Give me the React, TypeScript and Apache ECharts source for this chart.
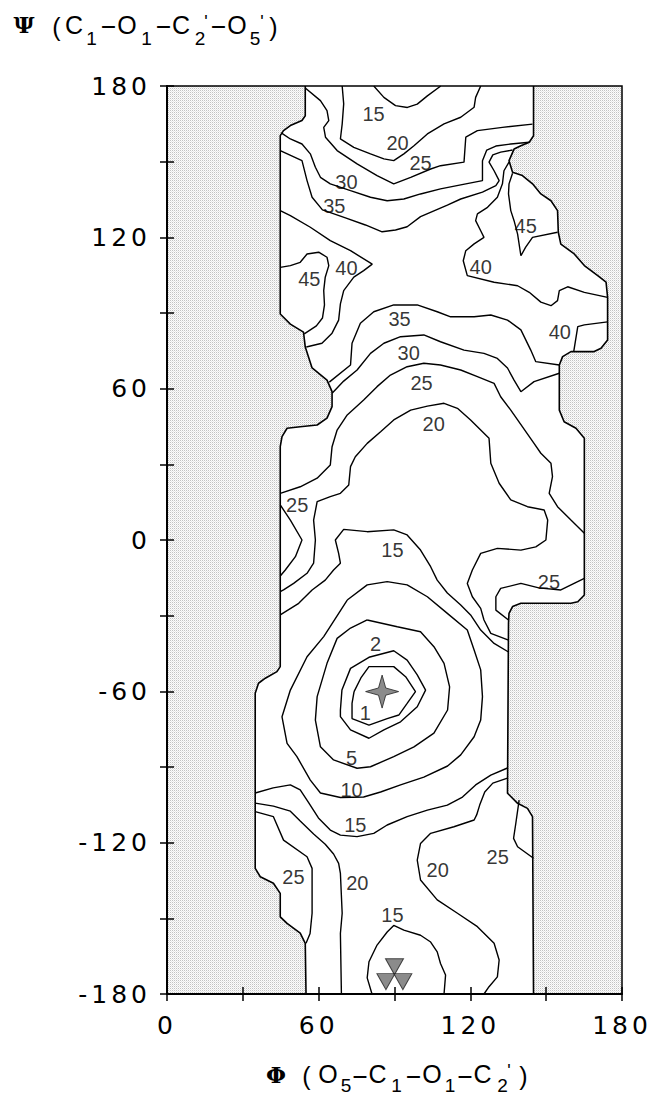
import React, { useEffect, useRef } from 'react';
import * as echarts from 'echarts';

// ---- allowed-region boundaries (phi, psi in degrees) ----
const leftBoundary = [[54.7,180],[54.7,168.2],[53.4,166.3],[48.8,164.3],[46.1,162.3],[44.8,160.3],[44.8,89.6],[48.8,85.6],[54.0,82.4],[54.7,76.5],[57.4,68.2],[63.3,63.4],[65.3,58.8],[65.3,52.9],[63.3,48.3],[59.4,45.6],[52.7,44.9],[47.5,44.3],[45.5,41.0],[44.8,37.0],[44.8,-50.2],[43.5,-52.2],[38.9,-54.8],[36.2,-56.8],[34.9,-60.8],[34.9,-130.2],[36.9,-133.5],[42.1,-136.1],[44.8,-140.1],[44.8,-149.4],[47.5,-152.0],[52.7,-155.9],[54.7,-159.9],[55,-180]];
const rightBoundary = [[145,180],[145,160.3],[143.3,157.7],[140,156.3],[137.3,155.0],[135.3,150.4],[136.7,145.8],[140.6,144.5],[144.6,141.2],[147.9,137.2],[151.9,134.5],[154.5,130.6],[154.8,122.0],[155.8,117.3],[161.1,113.4],[165.1,108.8],[170.4,104.8],[173.7,102.2],[174.3,96.2],[174.3,79.3],[171.7,76.0],[169.0,74.7],[159.8,74.7],[156.5,72.7],[155.2,69.4],[155.2,51.5],[157.1,46.9],[161.8,44.3],[165.1,40.3],[165.1,-21.8],[162.5,-24.5],[159.8,-25.1],[140.0,-25.1],[136.7,-26.4],[135.3,-29.1],[135.1,-33.0],[134.7,-100.4],[138.7,-104.4],[142.6,-106.4],[144.6,-109.7],[145,-180]];

// ---- contour lines (kcal/mol levels) ----
const c15Top = [[81.8,180],[85.8,175.5],[90.4,172.2],[95.1,171.5],[99.0,172.8],[103.0,176.1],[108.3,180]];
const c20Top = [[69.3,180],[69.9,172.9],[69.3,164.9],[68.6,159.0],[73.9,155.7],[80.5,153.1],[85.8,151.1],[89.7,150.4],[93.7,153.1],[97.7,156.3],[103.0,161.0],[109.6,165.0],[116.2,167.6],[121.5,171.6],[122.1,175.5],[124.1,180]];
const c25Top = [[54.7,179.2],[60.7,174.2],[63.3,170.2],[64.0,166.3],[62.0,163.6],[62.7,159.7],[67.3,154.4],[75.2,149.1],[83.1,144.5],[89.7,141.2],[96.4,143.8],[104.3,147.1],[108.2,148.4],[117.5,149.8],[118.2,159.7],[122.8,162.3],[132.7,163.6],[144.6,164.9]];
const c30Top = [[45.2,161.4],[48.8,159.0],[53.4,157.0],[56.7,153.1],[58.7,147.8],[60.7,143.8],[64.6,141.2],[72.6,138.5],[80.5,135.9],[87.1,134.5],[93.7,135.2],[100.3,137.2],[108.2,139.2],[116.2,140.8],[124.8,142.5],[124.8,150.4],[126.5,154.6],[130.1,156.2],[136.0,157.0],[143.3,157.7]];
const c35Top = [[44.8,154.4],[53.4,150.4],[55.4,142.5],[57.4,135.9],[61.5,130.9],[70.6,127.7],[78.5,124.9],[85.1,122.2],[90.4,122.9],[95.0,124.2],[100.3,128.2],[110.9,132.8],[116.2,135.2],[124.8,137.9],[130.1,140.5],[131.4,142.5],[129.4,146.4],[127.4,149.8],[128.9,152.7],[132.0,153.8],[136.7,154.6]];
const c40Left = [[44.8,130.6],[48.8,128.6],[56.7,124.0],[64.6,118.7],[72.6,114.7],[81.2,109.4],[77.8,106.8],[73.9,104.2],[69.9,98.9],[68.6,93.6],[67.9,87.2],[65.3,82.0],[61.3,78.0],[55.1,76.5]];
const c45Left = [[44.8,108.1],[48.8,108.8],[52.7,110.1],[55.4,113.4],[60.0,114.1],[63.3,112.1],[64.0,108.8],[62.6,104.2],[62.0,98.9],[62.3,93.2],[61.5,88.0],[59.1,84.9],[54.3,81.7]];
const c40Right = [[135.3,149.8],[133.3,146.4],[132.7,141.2],[130.7,135.9],[126.8,131.9],[122.8,129.3],[122.1,126.6],[124.1,122.6],[125.4,120.0],[121.5,117.4],[118.2,114.7],[117.2,110.7],[118.8,104.8],[129.4,102.2],[138.7,100.8],[143.3,98.2],[147.9,94.3],[151.9,92.9],[154.5,94.9],[155.2,98.9],[158.5,100.4],[165.1,98.2],[174.3,96.2]];
const c45Right = [[136.7,145.4],[135.3,141.2],[135.1,137.2],[136.0,130.6],[137.3,126.6],[138.7,121.3],[140.0,112.7],[141.9,116.1],[144.6,120.0],[154.5,122.0]];
const c40Small = [[160.9,74.7],[162.5,84.6],[165.1,85.3],[174.3,86.5]];
const c35Mid = [[64.2,62.6],[72.6,69.4],[73.2,78.0],[76.5,85.9],[81.8,90.5],[89.7,93.2],[99.0,93.2],[106.9,90.5],[112.2,88.5],[121.5,88.5],[128.1,89.2],[134.7,87.2],[140.0,83.3],[143.9,75.3],[145.9,70.7],[155.2,69.4]];
const c30Mid = [[65.4,58.3],[69.9,63.0],[75.2,67.4],[80.5,74.0],[85.8,78.0],[92.4,80.6],[101.6,81.3],[108.2,78.6],[117.5,75.3],[125.4,74.0],[130.7,72.0],[134.7,68.2],[137.3,63.4],[140.0,58.8],[145.2,62.8],[155.2,66.1]];
const c25Mid = [[44.8,18.5],[52.7,21.1],[59.4,24.5],[64.6,29.7],[65.3,37.0],[67.3,43.6],[71.3,49.6],[77.8,55.5],[83.1,60.8],[88.4,65.4],[95.0,68.7],[101.6,70.1],[108.2,69.4],[116.2,67.4],[122.8,64.8],[129.4,62.1],[132.0,56.8],[136.0,51.5],[138.7,47.6],[145.2,38.3],[147.9,34.4],[151.9,30.4],[152.5,25.1],[151.2,18.5],[154.5,13.2],[159.8,7.9],[165.1,2.7]];
const c25Pocket = [[44.8,13.9],[48.8,7.9],[53.4,0],[50.8,-6.6],[46.8,-11.9],[44.8,-14.3]];
const c20Mid = [[44.8,-20.5],[46.1,-19.8],[50.1,-17.2],[55.4,-13.2],[58.0,-9.2],[58.7,0],[58.0,7.9],[59.4,15.2],[64.6,17.2],[68.6,18.5],[71.9,21.8],[72.6,29.1],[74.5,33.0],[79.2,38.3],[84.5,42.9],[89.7,47.6],[96.4,51.5],[103.0,53.1],[109.6,54.2],[114.9,52.2],[120.1,47.6],[125.4,42.3],[127.4,40.3],[128.1,30.4],[131.4,22.5],[136.0,15.9],[142.6,13.2],[149.2,11.9],[150.6,7.9],[149.9,0],[145.9,-2.7],[140.0,-4.0],[130.7,-3.3],[124.1,-5.3],[120.8,-11.9],[118.8,-17.2],[120.8,-22.5],[124.1,-27.1],[125.4,-31.7],[128.1,-37.0],[135.1,-39.7]];
const c25Notch = [[135.1,-31.7],[130.1,-27.8],[130.1,-22.5],[132.0,-19.2],[140.0,-17.2],[147.1,-19.0],[155.8,-19.8],[165.1,-15.2]];
const c15Mid = [[44.8,-29.7],[52.1,-25.1],[57.4,-19.8],[62.6,-15.9],[65.9,-11.9],[68.6,-9.2],[67.9,-5.3],[66.6,0],[69.9,4.2],[79.2,3.3],[89.7,4.0],[95.0,2.0],[100.3,-4.0],[104.3,-10.6],[106.9,-15.9],[110.9,-21.0],[116.2,-25.8],[120.1,-29.7],[124.1,-35.7],[129.4,-41.0],[135.1,-44.4]];
const c10 = [[71.3,-23.8],[79.2,-17.8],[87.1,-16.5],[95.0,-17.8],[103.0,-22.5],[110.9,-29.1],[118.8,-35.7],[121.5,-43.6],[124.1,-51.5],[124.8,-62.1],[124.1,-71.4],[121.5,-78.0],[116.2,-85.2],[111.0,-89.6],[101.6,-94.0],[92.4,-97.1],[84.5,-99.9],[77.8,-101.9],[68.6,-102.1],[60.7,-100.3],[56.7,-95.2],[51.4,-85.9],[47.5,-80.6],[45.5,-70.1],[48.8,-59.5],[55.4,-46.3],[62.0,-38.3],[71.3,-23.8]];
const c5 = [[79.2,-31.7],[91.1,-34.4],[100.3,-36.4],[105.6,-42.3],[109.6,-48.9],[111.8,-58.2],[111.0,-67.4],[105.6,-76.6],[97.7,-82.0],[89.7,-85.9],[80.5,-89.9],[75.2,-90.5],[65.9,-87.2],[60.7,-82.0],[58.7,-71.4],[59.4,-62.1],[63.3,-48.9],[67.3,-39.0],[72.6,-34.9],[79.2,-31.7]];
const c2 = [[68.6,-67.4],[69.2,-59.5],[72.6,-50.9],[79.9,-46.5],[89.7,-43.9],[95.0,-47.6],[99.0,-53.5],[102.3,-59.5],[99.0,-66.1],[92.4,-72.1],[85.8,-75.3],[79.9,-78.6],[72.6,-75.3],[68.6,-70.0],[68.6,-67.4]];
const c1 = [[74.0,-60.1],[76.7,-54.7],[79.9,-50.2],[89.7,-50.2],[94.4,-54.2],[98.3,-60.1],[95.0,-64.8],[91.7,-69.4],[87.1,-70.8],[79.9,-73.4],[73.2,-70.8],[73.2,-64.8],[74.0,-60.1]];
const c15Low = [[34.9,-100.3],[42.0,-98.3],[48.8,-97.1],[52.7,-99.1],[55.9,-103.9],[59.9,-110.2],[64.6,-115.0],[68.6,-117.0],[75.2,-117.6],[81.8,-116.3],[87.1,-113.0],[95.0,-109.7],[103.0,-107.1],[110.9,-105.1],[116.9,-101.9],[122.1,-97.1],[128.1,-93.2],[134.7,-90.4]];
const c20LowLeft = [[34.9,-104.3],[42.1,-105.5],[48.8,-107.5],[52.7,-111.4],[58.0,-116.6],[62.6,-120.6],[65.9,-124.5],[67.9,-128.2],[68.6,-132.2],[69.3,-148.0],[68.6,-156.0],[69.0,-180]];
const c25LowLeft = [[34.9,-107.7],[42.1,-109.7],[46.1,-119.0],[55.4,-125.6],[57.4,-130.2],[57.4,-148.0],[56.6,-156.0],[55.0,-159.9]];
const c20LowRight = [[134.7,-94.4],[128.9,-96.4],[125.7,-99.9],[123.7,-105.1],[122.5,-109.0],[121.5,-111.0],[113.5,-113.7],[104.3,-116.3],[100.3,-120.3],[99.0,-126.9],[100.3,-134.8],[106.9,-142.7],[114.9,-148.0],[122.8,-153.3],[129.4,-159.9],[131.4,-166.5],[130.7,-173.2],[127.4,-177.1],[125.4,-180]];
const c25LowRight = [[139.3,-103.1],[138.0,-112.3],[137.1,-118.3],[138.7,-121.6],[145,-126.2]];
const c15Bottom = [[81.1,-180],[79.2,-173.6],[79.9,-167.2],[83.1,-160.6],[87.1,-155.4],[89.7,-152.8],[93.7,-154.7],[100.3,-156.7],[104.3,-159.4],[106.9,-163.3],[108.2,-167.9],[110.2,-172.5],[109.6,-180]];

const contourLines = [c15Top, c20Top, c25Top, c30Top, c35Top, c40Left, c45Left, c40Right, c45Right, c40Small, c35Mid, c30Mid, c25Mid, c25Pocket, c20Mid, c25Notch, c15Mid, c10, c5, c2, c1, c15Low, c20LowLeft, c25LowLeft, c20LowRight, c25LowRight, c15Bottom];

// ---- contour labels ----
const labelPos = [[81.7,168.9],[91.2,157.4],[100.3,149.5],[71.0,142.0],[66.2,132.4],[141.9,124.6],[56.3,103.5],[71.0,107.9],[124.1,108.2],[92.0,87.6],[155.4,82.5],[95.6,74.1],[100.7,62.3],[105.5,46.0],[51.5,13.9],[89.2,-4.0],[151.1,-16.7],[82.5,-41.2],[78.5,-68.6],[73.0,-86.4],[73.0,-99.1],[74.5,-113.0],[50.0,-133.6],[75.3,-136.0],[107.1,-130.9],[130.8,-125.7],[89.2,-148.7]];
const labelText = ['15','20','25','30','35','45','45','40','40','35','40','30','25','20','25','15','25','2','1','5','10','15','25','20','20','25','15'];

// ---- markers ----
const starPoint = [[85.1, -60.1]];
const trianglePoints = [[90.0, -169.2], [86.6, -175.1], [93.3, -175.1]];

const axisMin = -180;
const axisMax = 180;
const tickStep = 30;

function makeStipple() {
  const c = document.createElement('canvas');
  c.width = 2; c.height = 2;
  const ctx = c.getContext('2d');
  if (ctx) {
    ctx.fillStyle = '#fcfcfc'; ctx.fillRect(0, 0, 2, 2);
    ctx.fillStyle = '#c2c2c2'; ctx.fillRect(0, 0, 1, 1);
    ctx.fillStyle = '#e6e6e6'; ctx.fillRect(1, 1, 1, 1);
  }
  return { image: c, repeat: 'repeat' };
}

const SANS = 'Liberation Sans';

function glyph(text: string, x: number, y: number, size: number, extra: any = {}) {
  return {
    type: 'text', x, y, z: 20,
    scaleX: extra.scaleX || 1,
    style: {
      text, fill: '#000', fontSize: size,
      fontFamily: extra.family || SANS,
      fontWeight: extra.weight || 'normal',
      align: 'center', verticalAlign: 'middle',
    },
  };
}

export default function App() {
  const ref = useRef<HTMLDivElement>(null);
  useEffect(() => {
    if (!ref.current) return;
    const el = ref.current;
    const chart = echarts.init(el, undefined, { renderer: 'svg' });
    const stipple = makeStipple();
    const leftShade = [[0, 180], ...leftBoundary, [0, -180]];
    const rightShade = [[180, 180], ...rightBoundary, [180, -180]];
    const fmt = (v: number) => (v % 60 === 0 ? String(v) : '');
    const tickLine = { color: '#000', width: 1.5 };

    const shadeSeries = [leftShade, rightShade].map((poly) => ({
      type: 'custom', coordinateSystem: 'cartesian2d', silent: true, z: 1,
      data: [[0, 0]],
      renderItem: (_p: any, api: any) => ({
        type: 'polygon',
        shape: { points: poly.map((pt) => api.coord(pt)) },
        style: { fill: stipple, stroke: null },
      }),
    }));

    const boundarySeries = [leftBoundary, rightBoundary].map((d) => ({
      type: 'line', data: d, symbol: 'none', silent: true, z: 3,
      lineStyle: { color: '#000', width: 1.6 },
    }));

    const contourSeries = contourLines.map((d) => ({
      type: 'line', data: d, symbol: 'none', silent: true, z: 3,
      lineStyle: { color: '#000', width: 1.4 },
    }));

    const titleTop = [
      glyph('Ψ', 24, 24, 23, { family: 'DejaVu Serif', weight: 'bold' }),
      glyph('(', 56.5, 27, 25),
      glyph('C', 74, 25, 25),
      glyph('1', 91.5, 38, 19),
      glyph('-', 108.5, 25, 25, { scaleX: 2.1 }),
      glyph('O', 127, 25, 25),
      glyph('1', 146.5, 38, 19),
      glyph('-', 163.5, 25, 25, { scaleX: 2.1 }),
      glyph('C', 181, 25, 25),
      glyph('2', 200, 38, 19),
      glyph("'", 206, 22, 18),
      glyph('-', 218.5, 25, 25, { scaleX: 2.1 }),
      glyph('O', 237, 25, 25),
      glyph('5', 255, 38, 19),
      glyph("'", 262, 22, 18),
      glyph(')', 273.5, 27, 25),
    ];
    const titleBottom = [
      glyph('Φ', 276, 1074, 23, { family: 'DejaVu Serif', weight: 'bold' }),
      glyph('(', 306.5, 1076, 25),
      glyph('O', 328, 1074, 25),
      glyph('5', 346, 1085, 19),
      glyph('-', 360, 1075, 25, { scaleX: 2.1 }),
      glyph('C', 377.5, 1074, 25),
      glyph('1', 396.5, 1085, 19),
      glyph('-', 413.5, 1075, 25, { scaleX: 2.1 }),
      glyph('O', 432, 1074, 25),
      glyph('1', 450, 1085, 19),
      glyph('-', 465, 1075, 25, { scaleX: 2.1 }),
      glyph('C', 482.5, 1074, 25),
      glyph('2', 502.5, 1085, 19),
      glyph("'", 509, 1071, 18),
      glyph(')', 523.5, 1076, 25),
    ];

    const axisLabelStyle = { formatter: fmt, fontFamily: 'DejaVu Sans', fontSize: 25, color: '#000' };

    chart.setOption({
      animation: false,
      backgroundColor: '#ffffff',
      grid: { left: 167, right: 33, top: 86, bottom: 100, show: true, borderColor: '#000', borderWidth: 1.5, backgroundColor: 'transparent', z: 10 },
      xAxis: [
        { type: 'value', min: 0, max: 180, interval: tickStep, z: 10,
          axisLine: { show: true, onZero: false, lineStyle: { color: '#000', width: 2 } },
          axisTick: { show: true, length: 7, lineStyle: tickLine },
          axisLabel: { ...axisLabelStyle, margin: 19 },
          splitLine: { show: false } },
        { type: 'value', min: 0, max: 180, interval: tickStep, position: 'bottom', z: 10,
          axisLine: { show: false, onZero: false },
          axisTick: { show: true, inside: true, length: 7, lineStyle: tickLine },
          axisLabel: { show: false }, splitLine: { show: false } },
      ],
      yAxis: [
        { type: 'value', min: axisMin, max: axisMax, interval: tickStep, z: 10,
          axisLine: { show: true, onZero: false, lineStyle: { color: '#000', width: 2 } },
          axisTick: { show: true, length: 7, lineStyle: tickLine },
          axisLabel: { ...axisLabelStyle, margin: 16 },
          splitLine: { show: false } },
        { type: 'value', min: axisMin, max: axisMax, interval: tickStep, position: 'left', z: 10,
          axisLine: { show: false, onZero: false },
          axisTick: { show: true, inside: true, length: 7, lineStyle: tickLine },
          axisLabel: { show: false }, splitLine: { show: false } },
      ],
      graphic: [...titleTop, ...titleBottom],
      series: [
        ...shadeSeries,
        ...boundarySeries,
        ...contourSeries,
        {
          type: 'scatter', silent: true, z: 5, symbolSize: 0,
          itemStyle: { color: '#000' },
          data: labelPos.map((p, i) => ({ value: p, name: labelText[i] })),
          label: { show: true, position: 'inside', formatter: '{b}', fontFamily: SANS, fontSize: 20, color: '#000' },
        },
        {
          type: 'scatter', silent: true, z: 6, symbolSize: 33,
          symbol: 'path://M16 0 L19.5 12.5 L32 16 L19.5 19.5 L16 32 L12.5 19.5 L0 16 L12.5 12.5 Z',
          itemStyle: { color: '#6e6e6e', borderColor: '#222', borderWidth: 1 },
          data: starPoint,
        },
        {
          type: 'scatter', silent: true, z: 6, symbol: 'triangle', symbolRotate: 180, symbolSize: [18, 16],
          itemStyle: { color: '#6e6e6e', borderColor: '#222', borderWidth: 1 },
          data: trianglePoints,
        },
      ],
    });

    // widen the tick-label digits like the original typeset axis numbers
    const spaceDigits = () => {
      el.querySelectorAll('text').forEach((t) => {
        const txt = (t.textContent || '').trim();
        if (/^-?\d+$/.test(txt) && window.getComputedStyle(t).fontSize === '25px') {
          t.setAttribute('letter-spacing', '4');
        }
      });
    };
    spaceDigits();
    chart.on('finished', spaceDigits);
    const timer = window.setTimeout(spaceDigits, 50);
    return () => { window.clearTimeout(timer); chart.dispose(); };
  }, []);
  return <div ref={ref} style={{ position: 'absolute', left: 0, top: 0, width: 655, height: 1094 }} />;
}
